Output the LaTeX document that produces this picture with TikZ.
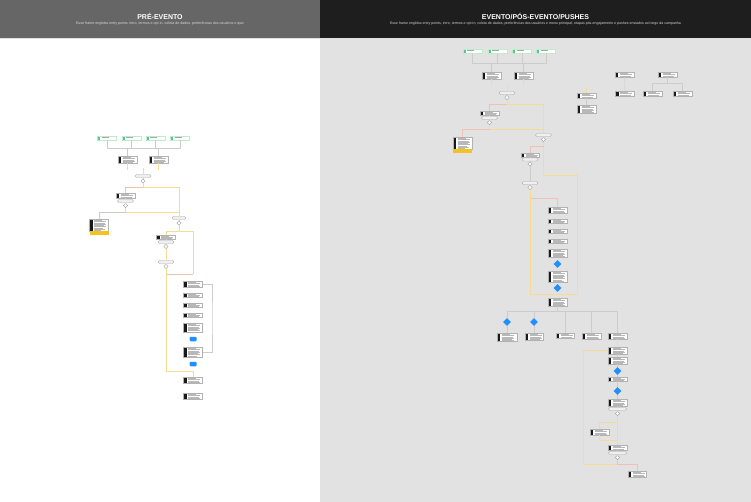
\documentclass[tikz,border=0pt]{standalone}
\usepackage{fontspec}
\setmainfont{Liberation Sans}
\usepackage{tikz}
\usetikzlibrary{positioning}
\usetikzlibrary{shapes.geometric}
\definecolor{headleft}{HTML}{666666}
\definecolor{headright}{HTML}{1E1E1E}
\definecolor{canvasgray}{HTML}{E2E2E2}
\definecolor{flowyellow}{HTML}{F6DC92}
\definecolor{flowpink}{HTML}{F0C0B2}
\definecolor{flowblue}{HTML}{1E90FF}
\definecolor{entrygreen}{HTML}{4FCB84}
\definecolor{entryline}{HTML}{BFEBCF}
\definecolor{notegold}{HTML}{F4C21C}
\tikzstyle{card} = [rectangle, draw=black!30, line width=0.3pt, fill=white, minimum width=19pt, minimum height=4.5pt, inner sep=0pt,
  path picture={\fill[black!90] (path picture bounding box.north west) rectangle ([xshift=3pt]path picture bounding box.south west);
    \foreach \k/\len in {1/8,2/12,3/11,4/12,5/10,6/12,7/9,8/11,9/7}
      \draw[black!28, line width=0.25pt] ([xshift=4.5pt,yshift=-1.25*\k pt]path picture bounding box.north west) -- ++(\len,0);}]
\tikzstyle{entry} = [rectangle, draw=entryline, line width=0.4pt, fill=white, minimum width=19pt, minimum height=4.5pt, inner sep=0pt,
  path picture={\fill[entrygreen] (path picture bounding box.north west) rectangle ([xshift=2.5pt]path picture bounding box.south west);
    \draw[black!35, line width=0.3pt] ([xshift=4pt,yshift=-1.3pt]path picture bounding box.north west) -- ++(7,0);}]
\tikzstyle{pill} = [rectangle, rounded corners=1.4pt, draw=black!35, line width=0.3pt, fill=black!6, minimum width=16pt, minimum height=3pt, inner sep=0pt]
\tikzstyle{gate} = [diamond, draw=black!40, line width=0.3pt, fill=white, minimum size=4.5pt, inner sep=0pt]
\tikzstyle{bluegate} = [diamond, fill=flowblue, minimum size=8pt, inner sep=0pt]
\tikzstyle{bluebox} = [rectangle, rounded corners=1pt, fill=flowblue, minimum width=7pt, minimum height=4.5pt, inner sep=0pt]
\tikzstyle{notetag} = [rectangle, fill=notegold, minimum width=19pt, minimum height=3.5pt, inner sep=0pt]
\tikzstyle{link} = [black!20, line width=0.4pt]
\tikzstyle{flow} = [flowyellow, line width=0.5pt]
\tikzstyle{flowp} = [flowpink, line width=0.5pt]

\begin{document}
\begin{tikzpicture}[x=1pt,y=-1pt]
    \useasboundingbox (0,0) rectangle (751,502);
    % panels
    \fill[white] (0,0) rectangle (320,502);
    \fill[canvasgray] (320,0) rectangle (751,502);
    \fill[headleft] (0,0) rectangle (320,38);
    \fill[headright] (320,0) rectangle (751,38);
    \fill[black!12] (0,38) rectangle (751,39.3);
    \node (titlePre) [text=white, font=\fontsize{7}{8}\selectfont\bfseries, inner sep=0pt] at (160,16.5) {PRÉ-EVENTO};
    \node (subPre) [text=white!85!black, font=\fontsize{3.6}{4}\selectfont, inner sep=0pt] at (160,24) {Esse frame engloba entry points, intro, termos e opt-in, coleta de dados, preferências dos usuários e quiz};
    \node (titleEv) [text=white, font=\fontsize{7}{8}\selectfont\bfseries, inner sep=0pt] at (535.5,16.5) {EVENTO/PÓS-EVENTO/PUSHES};
    \node (subEv) [text=white!85!black, font=\fontsize{3.55}{4}\selectfont, inner sep=0pt] at (535.5,24) {Esse frame engloba entry points, intro, termos e opt-in, coleta de dados, preferências dos usuários e menu principal, etapas pós-engajamento e pushes enviados ao longo da campanha};

    % ---------- pre-evento ----------
    \node (g1) [entry] at (107,138) {};
    \node (g2) [entry] at (131.5,138) {};
    \node (g3) [entry] at (155.5,138) {};
    \node (g4) [entry] at (180,138) {};
    \node (introA) [card, minimum height=7pt] at (127.5,159.5) {};
    \node (introB) [card, minimum height=7pt] at (158.5,159.5) {};
    \node (d1) [pill] at (143,176) {};
    \node (q1) [gate] at (143,181) {};
    \node (termos) [card, minimum height=5pt] at (125.5,195.5) {};
    \node (d2) [pill] at (125.5,201) {};
    \node (q2) [gate] at (125.5,205.5) {};
    \node (optout) [card, minimum height=12pt] at (99,225) {};
    \node (optoutTag) [notetag] at (99,232.8) {};
    \node (d3) [pill, minimum width=14pt] at (179,218) {};
    \node (q3) [gate] at (179,223) {};
    \node (coleta) [card, minimum height=4.5pt] at (166,237) {};
    \node (d4) [pill] at (166,242) {};
    \node (q4) [gate] at (166,246.5) {};
    \node (d5) [pill] at (166,262) {};
    \node (q5) [gate] at (166,266.5) {};
    \node (r1) [card, minimum height=6pt] at (193,284) {};
    \node (r2) [card, minimum height=4.5pt] at (193,295) {};
    \node (r3) [card, minimum height=4.5pt] at (193,305) {};
    \node (r4) [card, minimum height=4.5pt] at (193,315) {};
    \node (r5) [card, minimum height=9pt] at (193,327.5) {};
    \node (b1) [bluebox] at (193,339) {};
    \node (r7) [card, minimum height=10pt] at (193,352) {};
    \node (b2) [bluebox] at (193,364) {};
    \node (r9) [card, minimum height=6pt] at (193,380) {};
    \node (r10) [card, minimum height=6pt] at (193,396) {};

    \coordinate (jg) at (143,148);
    \coordinate (sA) at (127.5,170);
    \coordinate (sB) at (158.5,170);
    \coordinate (s1) at (143,168.5);
    \coordinate (j1) at (143,187);
    \coordinate (j2) at (125.5,212);
    \coordinate (j2r) at (179,212);
    \coordinate (jD) at (99,212);
    \coordinate (j3) at (179,231);
    \coordinate (j4) at (193,274);
    \coordinate (j5) at (166,274);
    \coordinate (j6) at (166,371);
    \coordinate (j7) at (193,371);
    \coordinate (lr) at (212,318);

    \foreach \g in {g1,g2,g3,g4} \draw[link] (\g) |- (jg);
    \draw[link] (jg) -| (introA);
    \draw[link] (jg) -| (introB);
    \draw[flow] (introA) -- (sA);
    \draw[flow] (introB) -- (sB);
    \draw[flow] (s1) -- (d1);
    \draw[link] (d1) -- (q1);
    \draw[flow] (q1) -- (j1);
    \draw[flowp] (j1) -| (termos);
    \draw[flow] (j1) -| (d3);
    \draw[link] (termos) -- (d2);
    \draw[link] (d2) -- (q2);
    \draw[flow] (q2) -- (j2) -- (j2r);
    \draw[link] (j2) -- (jD) -- (optout);
    \draw[link] (d3) -- (q3);
    \draw[flow] (q3) -- (j3);
    \draw[flow] (j3) -| (coleta);
    \draw[flow] (j3) -| (j4);
    \draw[flowp] (j4) -- (j5);
    \draw[link] (coleta) -- (d4);
    \draw[link] (d4) -- (q4);
    \draw[flow] (q4) -- (d5);
    \draw[link] (d5) -- (q5);
    \draw[flow] (q5) -- (j5);
    \draw[flow] (j5) -- (j6) -- (j7) -- (r9);
    \draw[link] (r1) -| (lr) |- (r7);

    % ---------- evento / pos-evento / pushes ----------
    \node (rg1) [entry] at (472.5,51) {};
    \node (rg2) [entry] at (497.5,51) {};
    \node (rg3) [entry] at (522,51) {};
    \node (rg4) [entry] at (546,51) {};
    \node (RA) [card, minimum height=7pt] at (491.5,75.5) {};
    \node (RB) [card, minimum height=7pt] at (523.5,75.5) {};
    \node (rd1) [pill] at (507,93) {};
    \node (rq1) [gate] at (507,97.5) {};
    \node (RC) [card, minimum height=4.5pt] at (489.5,113) {};
    \node (rd2) [pill] at (489.5,118) {};
    \node (rq2) [gate] at (489.5,122.5) {};
    \node (RD) [card, minimum height=12pt] at (462.5,143) {};
    \node (RDtag) [notetag] at (462.5,150.8) {};
    \node (rd3) [pill] at (543.5,135) {};
    \node (rq3) [gate] at (543.5,139.5) {};
    \node (RE) [card, minimum height=4.5pt, minimum width=18pt] at (530,155) {};
    \node (rd4) [pill] at (530,159.5) {};
    \node (rq4) [gate] at (530,164) {};
    \node (rd5) [pill] at (530,183) {};
    \node (rq5) [gate] at (530,187.5) {};
    \node (c1) [card, minimum height=6pt] at (557.5,210) {};
    \node (c2) [card, minimum height=4.5pt] at (557.5,221) {};
    \node (c3) [card, minimum height=4.5pt] at (557.5,231) {};
    \node (c4) [card, minimum height=4.5pt] at (557.5,241) {};
    \node (c5) [card, minimum height=8pt] at (557.5,253) {};
    \node (cd1) [bluegate] at (557.5,264) {};
    \node (c7) [card, minimum height=11pt] at (557.5,276.5) {};
    \node (cd2) [bluegate] at (557.5,288) {};
    \node (c9) [card, minimum height=8pt] at (557.5,302) {};
    % menu
    \node (bd1) [bluegate] at (507,322) {};
    \node (bd2) [bluegate] at (534,322) {};
    \node (k1) [card, minimum height=8pt, minimum width=20pt] at (507,337) {};
    \node (k2) [card, minimum height=7pt, minimum width=18pt] at (534,336.5) {};
    \node (k3) [card, minimum height=5pt, minimum width=18pt] at (565,335.5) {};
    \node (k4) [card, minimum height=6pt] at (591.5,336) {};
    \node (k5) [card, minimum height=6pt] at (617.5,336) {};
    \node (L) [card, minimum height=7pt] at (617.5,350.5) {};
    \node (M) [card, minimum height=7pt] at (617.5,360.5) {};
    \node (bd3) [bluegate] at (617.5,371) {};
    \node (N1) [card, minimum height=4.5pt] at (617.5,379) {};
    \node (bd4) [bluegate] at (617.5,391) {};
    \node (N2) [card, minimum height=7pt] at (617.5,402.5) {};
    \node (pd1) [pill, minimum width=18pt] at (617.5,409) {};
    \node (pq1) [gate] at (617.5,413.5) {};
    \node (P) [card, minimum height=6pt] at (599.5,432) {};
    \node (Q) [card, minimum height=5pt] at (617.5,447.5) {};
    \node (pd2) [pill, minimum width=18pt] at (617.5,453) {};
    \node (pq2) [gate] at (617.5,457.5) {};
    \node (N) [card, minimum height=6pt, minimum width=18pt] at (637,474) {};
    % pushes
    \node (F) [card, minimum height=5pt] at (624.5,74.5) {};
    \node (G) [card, minimum height=5pt] at (667.5,74.5) {};
    \node (H) [card, minimum height=5pt] at (625,93.5) {};
    \node (I) [card, minimum height=5pt] at (652.5,93.5) {};
    \node (J) [card, minimum height=5pt] at (682.5,93.5) {};
    \node (S1) [card, minimum height=5pt] at (586.5,95.5) {};
    \node (S2) [card, minimum height=8pt] at (586.5,109) {};

    \coordinate (jr) at (507.5,63);
    \coordinate (sRA) at (491.5,85);
    \coordinate (sRB) at (523.5,85);
    \coordinate (sr1) at (507,86);
    \coordinate (jr1) at (507,104);
    \coordinate (jr2) at (489.5,129);
    \coordinate (jr2r) at (543.5,129);
    \coordinate (jr3) at (543.5,146);
    \coordinate (jr4) at (543.5,175);
    \coordinate (jr5) at (530,198);
    \coordinate (jr6) at (530,294);
    \coordinate (jr7) at (577,294);
    \coordinate (jb) at (557.5,311);
    \coordinate (jl1) at (583,350.5);
    \coordinate (jl2) at (583,464);
    \coordinate (jq) at (617.5,464);
    \coordinate (jp1) at (617.5,422);
    \coordinate (jp2) at (599.5,422);
    \coordinate (jp3) at (599.5,440);
    \coordinate (jp4) at (617.5,440);
    \coordinate (jG) at (667.5,83);
    \coordinate (sS1) at (586.5,87);

    \foreach \g in {rg1,rg2,rg3,rg4} \draw[link] (\g) |- (jr);
    \draw[link] (jr) -| (RA);
    \draw[link] (jr) -| (RB);
    \draw[flow] (RA) -- (sRA);
    \draw[flow] (RB) -- (sRB);
    \draw[flow] (sr1) -- (rd1);
    \draw[link] (rd1) -- (rq1);
    \draw[flow] (rq1) -- (jr1);
    \draw[flowp] (jr1) -| (RC);
    \draw[flow] (jr1) -| (rd3);
    \draw[link] (RC) -- (rd2);
    \draw[link] (rd2) -- (rq2);
    \draw[flow] (rq2) -- (jr2) -- (jr2r);
    \draw[flowp] (jr2) -| (RD);
    \draw[link] (rd3) -- (rq3);
    \draw[flow] (rq3) -- (jr3) -- (jr4);
    \draw[flowp] (jr3) -| (RE);
    \draw[link] (RE) -- (rd4);
    \draw[link] (rd4) -- (rq4);
    \draw[link] (rq4) -- (rd5);
    \draw[link] (rd5) -- (rq5);
    \draw[flow] (rq5) -- (jr5);
    \draw[flowp] (jr5) -| (c1);
    \draw[flow] (jr5) -- (jr6) -- (jr7);
    \draw[flow] (jr4) -| (jr7);
    \draw[link] (c9) -- (jb);
    \foreach \t in {bd1,bd2,k3,k4,k5} \draw[link] (jb) -| (\t);
    \draw[link] (bd1) -- (k1);
    \draw[link] (bd2) -- (k2);
    \draw[flow] (k5) -- (L);
    \draw[flow] (L) -- (jl1) -- (jl2) -- (jq);
    \draw[link] (L) -- (M);
    \draw[link] (M) -- (bd3);
    \draw[link] (bd3) -- (N1);
    \draw[link] (N1) -- (bd4);
    \draw[link] (bd4) -- (N2);
    \draw[link] (N2) -- (pd1);
    \draw[link] (pd1) -- (pq1);
    \draw[flow] (pq1) -- (Q);
    \draw[flow] (jp1) -- (jp2) -- (P) -- (jp3) -- (jp4);
    \draw[link] (Q) -- (pd2);
    \draw[link] (pd2) -- (pq2);
    \draw[flowp] (pq2) -- (jq) -| (N);
    \draw[link] (F) -- (H);
    \draw[link] (G) -- (jG);
    \draw[link] (jG) -| (I);
    \draw[link] (jG) -| (J);
    \draw[flow] (sS1) -- (S1);
    \draw[link] (S1) -- (S2);
\end{tikzpicture}
\end{document}
